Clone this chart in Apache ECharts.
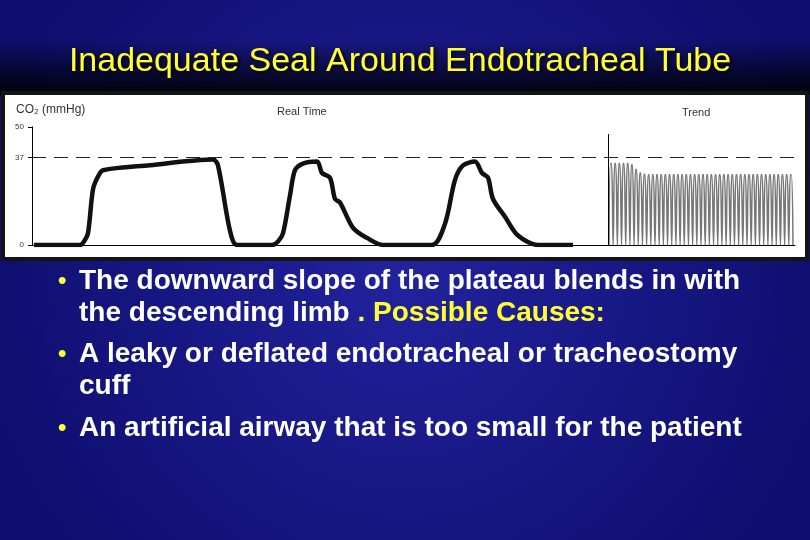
<!DOCTYPE html>
<html><head><meta charset="utf-8">
<script src="https://cdn.jsdelivr.net/npm/echarts@6/dist/echarts.min.js"></script>
<style>html,body{margin:0;padding:0;}#c{width:810px;height:540px;}</style>
</head><body><div id="c"></div>
<script>
// real-time waveform: [x position, CO2 mmHg]
const realTime = [
  [34,0],[80,0],[84,1.5],[88,5],[93,23.6],[98,29],[103,31.7],[150,33.8],[213,36.2],[218,33.7],[230,6],[237,0],
  [272,0],[278,1.5],[283,5],[290,21],[295,31.7],[303,34.5],[317,35.4],[322,30.5],[330,28.5],[335,19.5],[340,18],[353,7.3],[367,3],[383,0],
  [432,0],[445,9],[455,27.6],[463,33.7],[475,35.4],[482,30.5],[488,28.5],[493,19.5],[505,12],[518,4],[538,0],[573,0]
];
// trend peaks (mmHg), one per breath
const trendPeaks = [34.5,34.5,34.5,34.5,34.5,34,32,30.5,30,29.8,29.8,29.8,29.8,29.8,29.8,29.8,29.8,29.8,29.8,29.8,
  29.8,29.8,29.8,29.8,29.8,29.8,29.8,29.8,29.8,29.8,29.8,29.8,29.8,29.8,29.8,29.8,29.8,29.8,29.8,29.8,29.8,29.8,29.8,29.8];
const trendStart = 609, trendEnd = 793;
const yTicks = [0, 37, 50];

const step = (trendEnd - trendStart) / trendPeaks.length;
const trend = [];
trendPeaks.forEach((p, i) => {
  const x0 = trendStart + i * step;
  trend.push([x0, 0], [x0 + step * 0.35, p], [x0 + step * 0.6, p], [x0 + step, 0]);
});

const FONT = '"Liberation Sans", Arial, sans-serif';
const chart = echarts.init(document.getElementById('c'));
const bullets = [
  ['The downward slope of the plateau blends in with', 'the descending limb {y|. Possible Causes:}'],
  ['A leaky or deflated endotracheal or tracheostomy', 'cuff'],
  ['An artificial airway that is too small for the patient']
];
const g = [
  {type:'rect', z:0, shape:{x:0,y:0,width:810,height:540}, style:{fill:new echarts.graphic.RadialGradient(0.5,0.5,0.8,[{offset:0,color:'#22229e'},{offset:1,color:'#0e0e6e'}])}},
  {type:'rect', z:0, shape:{x:0,y:40,width:810,height:55}, style:{fill:new echarts.graphic.LinearGradient(0,0,0,1,[{offset:0,color:'rgba(0,0,0,0)'},{offset:1,color:'rgba(0,0,0,0.95)'}])}},
  {type:'rect', z:1, shape:{x:3,y:93,width:804,height:166}, style:{fill:'#fff', stroke:'#141414', lineWidth:4}},
  {type:'text', z:2, x:400, y:62, style:{text:'Inadequate Seal Around Endotracheal Tube', fill:'#ffff33', font:'34px ' + FONT, align:'center', verticalAlign:'middle', textShadowColor:'#000', textShadowBlur:4, textShadowOffsetX:2, textShadowOffsetY:2}},
  {type:'text', z:2, x:16, y:110, style:{text:'CO₂ (mmHg)', fill:'#333', font:'12px ' + FONT, verticalAlign:'middle'}},
  {type:'text', z:2, x:277, y:112, style:{text:'Real Time', fill:'#333', font:'11px ' + FONT, verticalAlign:'middle'}},
  {type:'text', z:2, x:682, y:113, style:{text:'Trend', fill:'#333', font:'11px ' + FONT, verticalAlign:'middle'}}
];
const ys = [[281,313],[354,386],[428]];
bullets.forEach((b, i) => {
  g.push({type:'text', z:2, x:58, y:ys[i][0], style:{text:'•', fill:'#ffff33', font:'bold 24px ' + FONT, verticalAlign:'middle'}});
  b.forEach((line, j) => {
    g.push({type:'text', z:2, x:79, y:ys[i][j], style:{text:line, fill:'#fff', font:'bold 28px ' + FONT, verticalAlign:'middle',
      rich:{y:{fill:'#ffff33', font:'bold 28px ' + FONT}}}});
  });
});

chart.setOption({
  animation:false,
  graphic:{elements:g},
  grid:{left:32, right:15, top:127, bottom:295, z:3},
  xAxis:{type:'value', min:32, max:795, axisLine:{lineStyle:{color:'#000', width:1}}, axisTick:{show:false}, axisLabel:{show:false}, splitLine:{show:false}, z:3},
  yAxis:{type:'value', min:0, max:50, axisLine:{show:true, lineStyle:{color:'#000'}},
    axisTick:{show:true, customValues:yTicks, length:4, lineStyle:{color:'#000'}},
    axisLabel:{customValues:yTicks, fontSize:8, color:'#333', margin:8}, splitLine:{show:false}, z:3},
  series:[
    {type:'line', data:realTime, smooth:0.3, showSymbol:false, z:4, lineStyle:{color:'#111', width:4.5},
      markLine:{silent:true, symbol:'none', label:{show:false}, data:[
        {yAxis:37, lineStyle:{color:'#222', type:[14,8], width:1}},
        [{coord:[608,0], lineStyle:{color:'#000', width:1, type:'solid'}},{coord:[608,47]}]
      ]}},
    {type:'line', data:trend, smooth:0.4, showSymbol:false, z:4, lineStyle:{color:'#777', width:1.5}}
  ]
});
</script></body></html>
